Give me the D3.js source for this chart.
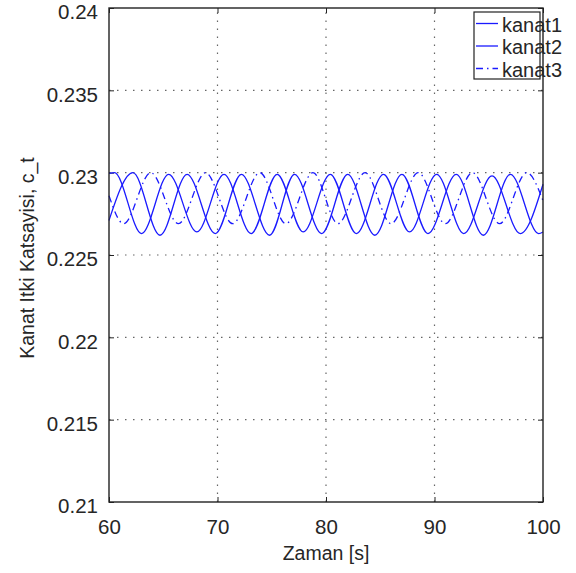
<!DOCTYPE html>
<html lang="tr">
<head>
<meta charset="UTF-8">
<title>Kanat Itki Katsayisi</title>
<script src="https://d3js.org/d3.v7.min.js"></script>
<style>
    body { margin: 0; padding: 0; background: #fff; }
    svg { display: block; font-family: "Liberation Sans", Arial, sans-serif; }
    .tick-label { font-size: 20.5px; fill: #262626; }
    .legend-label { font-size: 20px; fill: #262626; }
    .axis-title { font-size: 19.5px; fill: #262626; }
    .grid line { stroke: #666; stroke-width: 1.2; stroke-dasharray: 1.5,6.5; }
</style>
</head>
<body>
<script>
    // tick values
    const xTicks = [60, 70, 80, 90, 100];
    const yTicks = [0.21, 0.215, 0.22, 0.225, 0.23, 0.235, 0.24];
    const yTickLabels = ["0.21", "0.215", "0.22", "0.225", "0.23", "0.235", "0.24"];

    // turning points of each blade's thrust coefficient
    const kanat1T = [60, 60.5, 63.0, 65.5, 68.1, 70.6, 73.1, 75.5, 77.9, 80.4, 82.8, 85.3, 87.7, 90.2, 92.7, 95.3, 97.9, 100];
    const kanat1V = [0.22995, 0.2300, 0.2263, 0.2299, 0.2264, 0.2299, 0.2263, 0.2299, 0.2264, 0.2299, 0.2263, 0.2299, 0.2264, 0.2299, 0.2263, 0.2298, 0.2263, 0.2293];

    const kanat2T = [60, 62.2, 64.7, 67.2, 69.8, 72.2, 74.8, 77.1, 79.6, 82.0, 84.5, 87.0, 89.4, 92.0, 94.5, 97.0, 99.6, 100];
    const kanat2V = [0.2271, 0.2300, 0.2262, 0.2299, 0.2263, 0.2299, 0.2262, 0.2299, 0.2263, 0.2299, 0.2262, 0.2299, 0.2263, 0.2299, 0.2262, 0.2299, 0.2263, 0.2264];

    const kanat3T = [60, 61.35, 63.85, 66.4, 68.9, 71.4, 73.9, 76.3, 78.8, 81.1, 83.6, 86.0, 88.5, 91.0, 93.5, 96.0, 98.5, 100];
    const kanat3V = [0.2286, 0.2269, 0.2300, 0.2269, 0.2300, 0.2269, 0.2300, 0.2269, 0.2300, 0.2269, 0.2300, 0.2269, 0.2300, 0.2269, 0.2300, 0.2269, 0.2300, 0.2283];

    const seriesNames = ["kanat1", "kanat2", "kanat3"];
    const seriesDash = [null, null, "7,4,1.5,4"];

    const W = 576, H = 573;
    const plotL = 109, plotR = 543, plotT = 8, plotB = 502;

    const svg = d3.select("body").append("svg")
        .attr("width", W)
        .attr("height", H);

    const x = d3.scaleLinear().domain([60, 100]).range([plotL, plotR]);
    const y = d3.scaleLinear().domain([0.21, 0.24]).range([plotB, plotT]);

    // dotted grid
    const grid = svg.append("g").attr("class", "grid");
    grid.selectAll(".gx").data(xTicks.slice(1, -1)).enter().append("line")
        .attr("x1", d => x(d)).attr("x2", d => x(d))
        .attr("y1", plotB).attr("y2", plotT);
    grid.selectAll(".gy").data(yTicks.slice(1, -1)).enter().append("line")
        .attr("x1", plotL).attr("x2", plotR)
        .attr("y1", d => y(d)).attr("y2", d => y(d));

    // axes (ticks pointing inward, labels only bottom/left)
    const xAxis = svg.append("g")
        .attr("transform", `translate(0,${plotB})`)
        .call(d3.axisBottom(x).tickValues(xTicks).tickSizeInner(-5).tickSizeOuter(0).tickPadding(17));
    const yAxis = svg.append("g")
        .attr("transform", `translate(${plotL},0)`)
        .call(d3.axisLeft(y).tickValues(yTicks).tickFormat((d, i) => yTickLabels[i]).tickSizeInner(-5).tickSizeOuter(0).tickPadding(11));
    svg.append("g")
        .attr("transform", `translate(0,${plotT})`)
        .call(d3.axisTop(x).tickValues(xTicks).tickSizeInner(-5).tickSizeOuter(0).tickFormat(""));
    svg.append("g")
        .attr("transform", `translate(${plotR},0)`)
        .call(d3.axisRight(y).tickValues(yTicks).tickSizeInner(-5).tickSizeOuter(0).tickFormat(""));

    svg.selectAll(".domain").remove();
    svg.selectAll(".tick line").attr("stroke", "#222");
    xAxis.selectAll("text").attr("class", "tick-label").attr("font-size", null).attr("font-family", null);
    yAxis.selectAll("text").attr("class", "tick-label").attr("font-size", null).attr("font-family", null).attr("dy", "0.52em");

    // data lines
    const series = [
        kanat1T.map((t, i) => ({ t: t, v: kanat1V[i] })),
        kanat2T.map((t, i) => ({ t: t, v: kanat2V[i] })),
        kanat3T.map((t, i) => ({ t: t, v: kanat3V[i] }))
    ];
    const line = d3.line()
        .x(d => x(d.t))
        .y(d => y(d.v))
        .curve(d3.curveMonotoneX);

    svg.selectAll(".series").data(series).enter().append("path")
        .attr("class", "series")
        .attr("d", line)
        .attr("fill", "none")
        .attr("stroke", "#1a1aff")
        .attr("stroke-width", 1.3)
        .attr("stroke-dasharray", (d, i) => seriesDash[i]);

    // frame
    svg.append("rect")
        .attr("x", plotL).attr("y", plotT)
        .attr("width", plotR - plotL).attr("height", plotB - plotT)
        .attr("fill", "none")
        .attr("stroke", "#222")
        .attr("stroke-width", 1.4);

    // axis titles
    svg.append("text")
        .attr("class", "axis-title")
        .attr("x", (plotL + plotR) / 2)
        .attr("y", 560)
        .attr("text-anchor", "middle")
        .text("Zaman [s]");
    svg.append("text")
        .attr("class", "axis-title")
        .attr("transform", `translate(34,258) rotate(-90)`)
        .attr("text-anchor", "middle")
        .text("Kanat Itki Katsayisi, c_t");

    // legend
    const legend = svg.append("g");
    legend.append("rect")
        .attr("x", 474).attr("y", 12)
        .attr("width", 66).attr("height", 67)
        .attr("fill", "#fff")
        .attr("stroke", "#222")
        .attr("stroke-width", 1.2);
    seriesNames.forEach((name, i) => {
        const ly = 23.5 + i * 22.5;
        legend.append("line")
            .attr("x1", 476).attr("x2", 498)
            .attr("y1", ly).attr("y2", ly)
            .attr("stroke", "#1a1aff")
            .attr("stroke-width", 1.3)
            .attr("stroke-dasharray", seriesDash[i]);
        legend.append("text")
            .attr("class", "legend-label")
            .attr("x", 502).attr("y", ly + 8)
            .text(name);
    });
</script>
</body>
</html>
